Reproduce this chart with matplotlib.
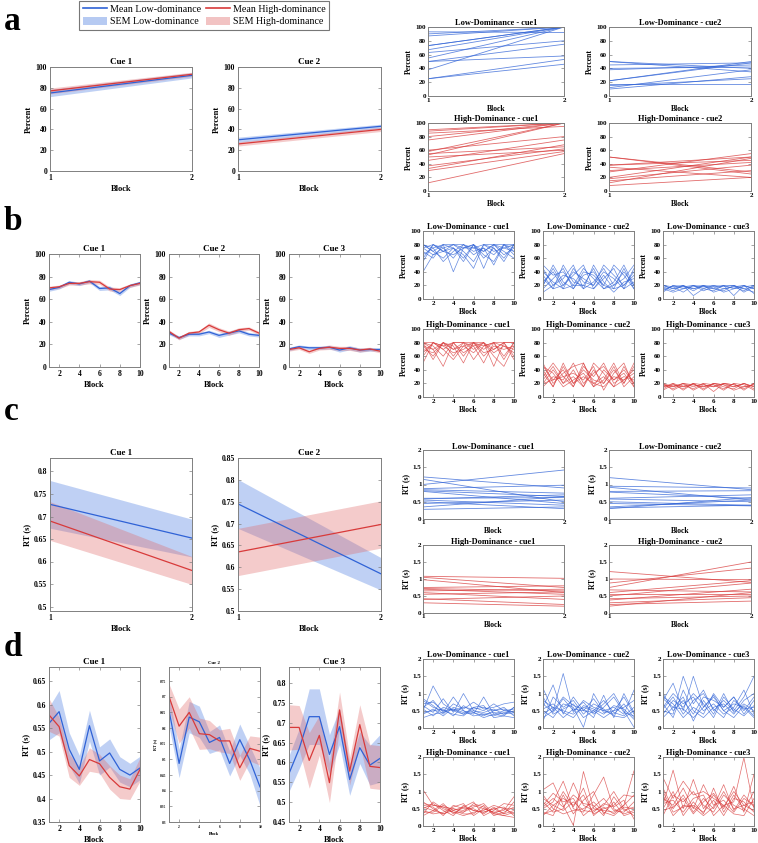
import matplotlib
matplotlib.use('Agg')
import matplotlib.pyplot as plt
from matplotlib.lines import Line2D
from matplotlib.patches import Patch
import numpy as np

plt.rcParams['font.family'] = ['Liberation Serif', 'DejaVu Serif']

BLUE = '#2f62d6'
RED = '#d83a3a'
BLUE_FILL = '#4a7be0'
RED_FILL = '#e06a6a'
SPINE = '#808080'

# ---------------- data ----------------
blocks2 = [1, 2]
blocks10 = [1, 2, 3, 4, 5, 6, 7, 8, 9, 10]

# a: percent, 2 blocks (mean, sem)
a_cue1_low = [75, 92]
a_cue1_low_sem = [3.5, 2.5]
a_cue1_high = [77, 93]
a_cue1_high_sem = [2.8, 2.0]
a_cue2_low = [30, 43]
a_cue2_low_sem = [2.5, 2.0]
a_cue2_high = [26, 40]
a_cue2_high_sem = [2.0, 2.0]

a_low_cue1_start = [100, 90, 87, 93, 73, 73, 67, 63, 55, 50, 50, 38, 25, 25]
a_low_cue1_end = [100, 100, 100, 92, 100, 100, 100, 80, 100, 75, 58, 100, 53, 46]
a_low_cue2_start = [50, 50, 45, 40, 38, 22, 22, 18, 15, 12, 10]
a_low_cue2_end = [40, 35, 48, 42, 45, 50, 48, 18, 25, 38, 28]
a_high_cue1_start = [100, 90, 88, 85, 80, 75, 60, 58, 55, 53, 50, 45, 37, 33, 30, 12]
a_high_cue1_end = [100, 100, 100, 95, 100, 100, 80, 100, 65, 100, 60, 75, 62, 68, 58, 55]
a_high_cue2_start = [50, 50, 38, 38, 35, 30, 28, 20, 18, 15, 12, 8]
a_high_cue2_end = [25, 28, 50, 45, 20, 42, 55, 50, 38, 30, 48, 20]

# b: percent, 10 blocks
b_cue1_low = [68.5, 70.5, 75, 73.5, 76, 69.5, 70, 65, 72, 74.5]
b_cue1_high = [70, 71, 74, 74, 75.5, 75, 69, 68.5, 72, 74]
b_cue2_low = [30, 26, 29, 29, 31, 28, 30, 32, 29, 28]
b_cue2_high = [31.5, 25.5, 30, 31, 37, 33, 30, 33, 34, 30]
b_cue3_low = [16, 18, 17, 17, 17.5, 15, 17, 15, 15.5, 15.5]
b_cue3_high = [15.5, 17, 13.5, 16.5, 17.5, 16.5, 16.5, 15, 16, 14]
b_sem_low = [1.5, 1.5, 1.5, 1.5, 1.5, 1.8, 1.8, 1.8, 1.5, 1.5]
b_sem_high = [1.5, 1.5, 1.5, 1.5, 2.0, 1.8, 1.8, 1.8, 1.5, 1.5]

b_low_cue1 = [
    [80, 75, 80, 80, 80, 75, 80, 80, 75, 80],
    [75, 80, 70, 80, 75, 80, 70, 80, 80, 75],
    [60, 80, 75, 60, 80, 70, 75, 65, 80, 80],
    [40, 65, 70, 75, 65, 45, 80, 70, 75, 70],
    [70, 60, 80, 40, 75, 80, 60, 75, 55, 80],
    [80, 70, 60, 75, 55, 80, 45, 80, 70, 60],
    [65, 75, 55, 70, 80, 65, 75, 50, 80, 65],
    [75, 65, 75, 80, 70, 55, 80, 75, 60, 80],
    [55, 80, 70, 65, 75, 75, 70, 80, 65, 75],
    [80, 70, 80, 75, 60, 80, 65, 55, 80, 70],
]
b_low_cue2 = [
    [30, 15, 50, 25, 20, 45, 15, 20, 40, 20],
    [20, 45, 20, 35, 50, 15, 30, 45, 15, 25],
    [45, 20, 30, 50, 15, 25, 45, 20, 30, 50],
    [15, 30, 45, 15, 35, 40, 20, 15, 45, 15],
    [35, 15, 20, 40, 30, 20, 50, 35, 20, 40],
    [25, 40, 15, 20, 45, 30, 15, 25, 50, 20],
    [10, 20, 35, 30, 15, 50, 25, 10, 25, 30],
    [40, 25, 15, 45, 25, 20, 40, 30, 15, 45],
    [20, 50, 25, 15, 40, 35, 20, 50, 35, 15],
    [50, 35, 40, 20, 20, 15, 35, 15, 20, 35],
]
b_low_cue3 = [
    [15, 18, 20, 15, 18, 20, 15, 18, 20, 15],
    [20, 15, 18, 20, 15, 12, 20, 20, 10, 18],
    [10, 20, 15, 18, 20, 18, 10, 15, 18, 20],
    [18, 12, 20, 5, 15, 20, 18, 20, 15, 10],
    [20, 18, 10, 20, 18, 15, 20, 5, 20, 15],
    [12, 20, 18, 15, 20, 10, 15, 18, 12, 20],
    [15, 10, 15, 20, 12, 18, 20, 15, 20, 8],
    [20, 15, 20, 12, 20, 15, 12, 20, 15, 18],
]
b_high_cue1 = [
    [80, 80, 75, 80, 80, 80, 75, 80, 80, 80],
    [75, 60, 80, 70, 80, 75, 80, 65, 75, 70],
    [80, 70, 45, 80, 60, 80, 70, 80, 55, 80],
    [60, 80, 70, 55, 75, 65, 80, 45, 80, 60],
    [70, 65, 80, 75, 50, 80, 60, 75, 70, 75],
    [80, 75, 60, 80, 80, 55, 75, 80, 60, 80],
    [50, 80, 75, 65, 70, 80, 65, 70, 80, 55],
    [75, 70, 80, 60, 80, 70, 80, 60, 45, 75],
    [65, 80, 70, 80, 65, 75, 50, 80, 75, 65],
    [80, 55, 80, 70, 75, 80, 80, 70, 80, 80],
]
b_high_cue2 = [
    [50, 20, 35, 45, 50, 20, 15, 30, 25, 40],
    [25, 45, 20, 30, 15, 50, 35, 15, 45, 20],
    [35, 15, 50, 20, 40, 25, 20, 45, 15, 30],
    [15, 30, 25, 50, 20, 35, 45, 25, 35, 15],
    [45, 35, 15, 25, 35, 15, 25, 50, 20, 45],
    [20, 25, 40, 15, 45, 30, 50, 20, 30, 25],
    [30, 50, 30, 35, 25, 45, 10, 35, 50, 15],
    [40, 15, 45, 20, 30, 20, 30, 15, 25, 35],
    [20, 40, 20, 40, 15, 40, 20, 40, 20, 50],
    [45, 25, 30, 15, 50, 15, 40, 25, 40, 20],
]
b_high_cue3 = [
    [18, 15, 20, 18, 15, 20, 18, 15, 20, 15],
    [15, 20, 10, 20, 18, 15, 20, 18, 12, 20],
    [20, 10, 18, 12, 20, 18, 10, 20, 18, 10],
    [10, 18, 15, 20, 10, 20, 15, 12, 20, 15],
    [20, 15, 20, 15, 20, 8, 20, 18, 15, 18],
    [12, 20, 15, 18, 15, 18, 12, 20, 10, 20],
    [18, 12, 20, 10, 18, 15, 20, 15, 20, 12],
    [15, 18, 12, 20, 12, 20, 18, 10, 15, 18],
]

# c: RT, 2 blocks
c_cue1_low = [0.727, 0.652]
c_cue1_low_sem = [0.053, 0.042]
c_cue1_high = [0.690, 0.580]
c_cue1_high_sem = [0.043, 0.031]
c_cue2_low = [0.745, 0.585]
c_cue2_low_sem = [0.056, 0.037]
c_cue2_high = [0.635, 0.698]
c_cue2_high_sem = [0.054, 0.054]

c_low_cue1_start = [1.22, 1.15, 1.0, 0.88, 0.85, 0.82, 0.8, 0.6, 0.58, 0.55, 0.5, 0.45, 0.35, 0.28]
c_low_cue1_end = [0.9, 0.5, 1.42, 0.98, 0.75, 0.65, 0.45, 0.62, 0.7, 0.4, 0.3, 0.55, 0.65, 0.35]
c_low_cue2_start = [1.2, 0.95, 0.92, 0.8, 0.78, 0.6, 0.58, 0.5, 0.45, 0.35, 0.32, 0.3]
c_low_cue2_end = [0.85, 0.9, 0.55, 0.82, 0.6, 0.7, 0.5, 0.4, 0.38, 0.55, 0.4, 0.62]
c_high_cue1_start = [1.08, 1.05, 0.98, 0.75, 0.72, 0.7, 0.65, 0.6, 0.55, 0.42, 0.4, 0.3]
c_high_cue1_end = [1.02, 0.75, 0.6, 0.8, 0.65, 0.55, 0.7, 0.4, 0.62, 0.25, 0.5, 0.2]
c_high_cue2_start = [1.22, 1.0, 0.88, 0.75, 0.68, 0.6, 0.55, 0.5, 0.42, 0.38, 0.3, 0.25, 0.2]
c_high_cue2_end = [0.9, 0.98, 1.32, 1.5, 0.62, 0.95, 0.55, 0.88, 0.5, 0.7, 0.45, 0.35, 0.6]

# d: RT, 10 blocks
d_cue1_low = [0.56, 0.585, 0.505, 0.462, 0.555, 0.48, 0.497, 0.462, 0.45, 0.465]
d_cue1_low_sem = [0.035, 0.045, 0.035, 0.03, 0.033, 0.03, 0.03, 0.027, 0.025, 0.025]
d_cue1_high = [0.578, 0.553, 0.47, 0.448, 0.483, 0.474, 0.445, 0.425, 0.42, 0.462]
d_cue1_high_sem = [0.035, 0.02, 0.025, 0.02, 0.025, 0.02, 0.025, 0.025, 0.022, 0.025]
d_cue2_low = [0.657, 0.487, 0.635, 0.62, 0.554, 0.57, 0.487, 0.563, 0.497, 0.412]
d_cue2_low_sem = [0.05, 0.045, 0.05, 0.05, 0.035, 0.04, 0.04, 0.05, 0.045, 0.06]
d_cue2_high = [0.701, 0.606, 0.65, 0.582, 0.579, 0.559, 0.559, 0.473, 0.535, 0.526]
d_cue2_high_sem = [0.04, 0.055, 0.05, 0.05, 0.045, 0.035, 0.04, 0.04, 0.04, 0.045]
d_cue3_low = [0.572, 0.634, 0.715, 0.715, 0.62, 0.69, 0.557, 0.637, 0.593, 0.61]
d_cue3_low_sem = [0.045, 0.05, 0.07, 0.07, 0.05, 0.045, 0.04, 0.04, 0.05, 0.06]
d_cue3_high = [0.688, 0.688, 0.605, 0.668, 0.549, 0.732, 0.578, 0.695, 0.59, 0.587]
d_cue3_high_sem = [0.057, 0.055, 0.07, 0.05, 0.05, 0.045, 0.035, 0.05, 0.055, 0.055]

d_low_cue1 = [
    [0.8, 0.6, 0.5, 0.55, 0.45, 0.5, 0.4, 0.45, 0.4, 0.5],
    [0.5, 1.22, 0.7, 0.5, 0.6, 0.55, 0.6, 0.5, 0.55, 0.45],
    [0.65, 0.45, 0.85, 0.45, 1.0, 0.5, 0.45, 0.55, 0.4, 0.6],
    [0.4, 0.55, 0.35, 0.6, 0.5, 0.4, 0.9, 0.4, 0.35, 0.3],
    [0.7, 0.75, 0.5, 0.4, 0.35, 0.6, 0.5, 0.7, 0.5, 0.55],
    [0.3, 0.4, 0.45, 0.9, 0.5, 0.35, 0.4, 0.35, 0.45, 0.4],
    [0.55, 0.35, 0.6, 0.5, 0.4, 0.45, 0.35, 0.5, 0.6, 0.35],
    [0.85, 0.65, 0.4, 0.7, 0.55, 0.75, 0.55, 0.6, 0.7, 0.75],
    [0.45, 0.5, 0.55, 0.35, 0.65, 0.45, 0.3, 0.4, 0.5, 0.45],
    [0.6, 0.8, 0.45, 0.55, 0.4, 0.6, 0.65, 0.3, 0.35, 0.6],
]
d_low_cue2 = [
    [1.15, 0.5, 1.58, 0.45, 0.8, 0.6, 0.5, 0.4, 0.7, 0.3],
    [0.6, 1.25, 0.4, 0.9, 0.5, 0.45, 0.7, 1.0, 0.5, 0.02],
    [0.5, 0.3, 0.7, 0.6, 0.02, 1.0, 0.5, 0.6, 0.4, 1.1],
    [0.8, 0.6, 0.5, 0.4, 0.6, 0.5, 0.3, 0.5, 0.9, 0.4],
    [0.2, 0.9, 0.6, 0.8, 0.4, 0.7, 0.55, 0.35, 0.3, 0.5],
    [0.7, 0.45, 0.85, 0.5, 0.75, 0.4, 0.6, 0.9, 0.45, 0.35],
    [0.4, 0.6, 0.3, 0.55, 0.5, 0.85, 0.45, 0.5, 0.6, 0.8],
    [0.9, 0.4, 0.55, 0.7, 0.3, 0.5, 0.8, 0.45, 0.35, 0.6],
    [0.55, 0.7, 0.45, 0.3, 0.65, 0.55, 0.4, 0.65, 0.55, 0.25],
    [0.3, 0.5, 0.9, 0.65, 0.55, 0.3, 0.95, 0.3, 1.0, 0.45],
]
d_low_cue3 = [
    [0.8, 1.3, 0.5, 1.5, 0.6, 0.9, 0.5, 0.7, 0.6, 0.3],
    [0.5, 0.4, 1.5, 0.7, 1.1, 0.5, 0.8, 0.5, 0.9, 1.5],
    [0.9, 0.7, 0.3, 0.6, 0.4, 1.0, 0.6, 0.9, 0.4, 0.8],
    [0.3, 0.6, 0.9, 0.2, 0.8, 0.4, 1.0, 0.45, 0.7, 0.5],
    [0.6, 1.0, 0.7, 0.9, 0.5, 0.7, 0.4, 0.6, 1.1, 0.4],
    [1.0, 0.5, 0.8, 0.4, 0.9, 0.8, 0.6, 0.9, 0.5, 0.9],
    [0.4, 0.8, 0.6, 1.0, 0.7, 0.3, 0.9, 0.55, 0.35, 0.65],
    [0.7, 0.3, 1.1, 0.5, 0.3, 0.6, 0.7, 0.4, 0.8, 1.0],
    [0.55, 0.9, 0.4, 0.8, 1.0, 0.55, 0.3, 0.8, 0.55, 0.6],
    [0.85, 0.6, 0.55, 0.3, 0.6, 0.95, 0.5, 0.3, 0.65, 0.35],
]
d_high_cue1 = [
    [1.05, 0.6, 0.55, 0.5, 0.45, 0.6, 0.5, 0.4, 0.45, 0.85],
    [0.7, 0.5, 0.35, 0.5, 0.4, 0.65, 0.55, 0.35, 0.3, 0.4],
    [0.5, 0.65, 0.45, 0.3, 0.6, 0.45, 0.4, 0.5, 0.55, 0.3],
    [0.4, 0.4, 0.6, 0.45, 0.35, 0.35, 0.6, 0.3, 0.4, 0.55],
    [0.6, 0.55, 0.3, 0.6, 0.5, 0.5, 0.35, 0.55, 0.35, 0.45],
    [0.35, 0.7, 0.5, 0.4, 0.3, 0.4, 0.45, 0.6, 0.5, 0.35],
    [0.55, 0.45, 0.65, 0.35, 0.55, 0.7, 0.3, 0.45, 0.65, 0.6],
    [0.45, 0.35, 0.4, 0.55, 0.65, 0.3, 0.5, 0.4, 0.3, 0.25],
    [0.65, 0.6, 0.55, 0.4, 0.4, 0.55, 0.65, 0.35, 0.5, 0.5],
    [0.3, 0.45, 0.35, 0.45, 0.55, 0.45, 0.4, 0.5, 0.35, 0.7],
]
d_high_cue2 = [
    [1.05, 1.25, 0.6, 0.02, 1.58, 0.5, 0.45, 0.4, 0.6, 1.6],
    [0.5, 0.7, 1.3, 0.5, 0.4, 0.9, 1.42, 0.5, 0.35, 0.45],
    [0.7, 0.4, 0.5, 1.25, 0.6, 0.45, 0.6, 1.0, 0.5, 0.3],
    [0.3, 0.6, 0.8, 0.6, 0.9, 0.35, 0.5, 0.6, 0.9, 0.85],
    [0.9, 0.5, 0.35, 0.45, 0.5, 0.7, 0.4, 0.3, 0.55, 0.5],
    [0.6, 0.95, 0.7, 0.8, 0.3, 0.55, 0.8, 0.45, 0.4, 0.7],
    [0.4, 0.3, 0.9, 0.35, 0.75, 1.0, 0.35, 0.7, 0.3, 0.4],
    [0.8, 0.6, 0.45, 0.7, 0.45, 0.4, 0.65, 0.55, 0.75, 0.2],
    [0.55, 0.8, 0.55, 0.9, 0.65, 0.6, 0.3, 0.85, 0.45, 0.55],
    [0.35, 0.45, 1.0, 0.55, 1.1, 0.3, 0.55, 0.35, 0.6, 0.9],
]
d_high_cue3 = [
    [1.4, 0.8, 1.3, 0.9, 1.0, 0.8, 0.6, 0.7, 1.98, 0.5],
    [0.6, 1.62, 0.5, 1.35, 0.5, 0.9, 0.5, 1.15, 0.4, 1.5],
    [1.1, 0.5, 0.9, 0.4, 0.8, 0.5, 1.0, 0.5, 0.6, 0.7],
    [0.5, 1.0, 0.3, 0.7, 0.35, 1.1, 0.4, 0.9, 0.5, 0.3],
    [0.8, 0.6, 1.1, 0.5, 1.2, 0.6, 0.75, 0.4, 0.8, 0.6],
    [0.3, 0.9, 0.7, 1.0, 0.6, 0.4, 0.9, 0.6, 0.45, 1.0],
    [1.0, 0.4, 0.55, 0.6, 0.4, 0.75, 0.3, 0.8, 0.7, 0.4],
    [0.65, 0.75, 0.4, 0.8, 0.9, 0.3, 0.6, 0.35, 0.3, 0.8],
    [0.45, 0.55, 0.8, 0.35, 0.7, 0.95, 0.55, 1.0, 0.6, 0.45],
    [0.9, 0.3, 0.6, 0.55, 0.3, 0.55, 1.2, 0.45, 0.9, 0.55],
]

# ---------------- helpers ----------------
W, H = 758, 843
fig = plt.figure(figsize=(W / 100, H / 100), dpi=100)
fig.patch.set_facecolor('white')


def add_ax(l, t, r, b):
    return fig.add_axes([l / W, 1 - b / H, (r - l) / W, (b - t) / H])


def style(ax, title, ylabel, xlim, xticks, ylim, yticks, fs=5.5, tfs=6.5, xlabel='Block',
          pad=2, tpad=2):
    ax.set_xlim(xlim)
    ax.set_ylim(ylim)
    ax.set_xticks(xticks)
    ax.set_yticks(yticks)
    ax.set_xticklabels([f'{v:g}' for v in xticks], fontweight='bold')
    ax.set_yticklabels([f'{v:g}' for v in yticks], fontweight='bold')
    ax.tick_params(direction='in', length=2, width=0.5, top=True, right=True,
                   labelsize=fs, pad=pad, color=SPINE)
    for s in ax.spines.values():
        s.set_color(SPINE)
        s.set_linewidth(0.7)
    ax.set_title(title, fontsize=tfs, fontweight='bold', pad=tpad)
    ax.set_ylabel(ylabel, fontsize=fs + 0.5, fontweight='bold', labelpad=2)
    if xlabel:
        ax.set_xlabel(xlabel, fontsize=fs + 0.5, fontweight='bold', labelpad=pad)


def mean_plot(ax, x, low, low_sem, high, high_sem, lw=0.9):
    for m, s, c, fc in [(low, low_sem, BLUE, BLUE_FILL), (high, high_sem, RED, RED_FILL)]:
        m = np.array(m)
        s = np.array(s)
        ax.fill_between(x, m - s, m + s, color=fc, alpha=0.35, linewidth=0)
        ax.plot(x, m, color=c, linewidth=lw)


def pair_plot(ax, start, end, color):
    for a, b in zip(start, end):
        ax.plot(blocks2, [a, b], color=color, linewidth=0.6, alpha=0.75)


def subj_plot(ax, rows, color):
    for r in rows:
        ax.plot(blocks10, r, color=color, linewidth=0.5, alpha=0.75)


pct_ticks = [0, 20, 40, 60, 80, 100]
rt_ticks = [0, 0.5, 1, 1.5, 2]

# ---------------- panel letters & legend ----------------
for letter, y in [('a', 22), ('b', 222), ('c', 412), ('d', 648)]:
    fig.text(4 / W, 1 - y / H, letter, fontsize=24, fontweight='bold', va='center', ha='left')

handles = [Line2D([], [], color=BLUE, lw=1.2),
           Patch(facecolor=BLUE_FILL, alpha=0.4, edgecolor='none'),
           Line2D([], [], color=RED, lw=1.2),
           Patch(facecolor=RED_FILL, alpha=0.4, edgecolor='none')]
labels = ['Mean Low-dominance', 'SEM Low-dominance', 'Mean High-dominance', 'SEM High-dominance']
leg = fig.legend(handles, labels, ncol=2, loc='upper left', bbox_to_anchor=(79 / W, 1 - 1 / H),
                 borderaxespad=0, fontsize=7.2, frameon=True, fancybox=False, borderpad=0.35,
                 handlelength=2.4, handleheight=0.9, columnspacing=0.5, handletextpad=0.3,
                 labelspacing=0.25)
leg.get_frame().set_edgecolor('#555555')
leg.get_frame().set_linewidth(0.8)

# ---------------- panel a ----------------
ax = add_ax(50, 67, 192, 171)
mean_plot(ax, blocks2, a_cue1_low, a_cue1_low_sem, a_cue1_high, a_cue1_high_sem)
style(ax, 'Cue 1', 'Percent', (1, 2), [1, 2], (0, 100), pct_ticks)
ax = add_ax(238, 67, 381, 171)
mean_plot(ax, blocks2, a_cue2_low, a_cue2_low_sem, a_cue2_high, a_cue2_high_sem)
style(ax, 'Cue 2', 'Percent', (1, 2), [1, 2], (0, 100), pct_ticks)

for (l, r), (t, b), data, col, title in [
        ((428, 564), (27, 96), (a_low_cue1_start, a_low_cue1_end), BLUE, 'Low-Dominance - cue1'),
        ((609, 751), (27, 96), (a_low_cue2_start, a_low_cue2_end), BLUE, 'Low-Dominance - cue2'),
        ((428, 564), (123, 191), (a_high_cue1_start, a_high_cue1_end), RED, 'High-Dominance - cue1'),
        ((609, 751), (123, 191), (a_high_cue2_start, a_high_cue2_end), RED, 'High-Dominance - cue2')]:
    ax = add_ax(l, t, r, b)
    pair_plot(ax, data[0], data[1], col)
    style(ax, title, 'Percent', (1, 2), [1, 2], (0, 100), pct_ticks, fs=5, tfs=6, pad=1.5, tpad=1.5)

# ---------------- panel b ----------------
for (l, r), low, high, title in [((49, 140), b_cue1_low, b_cue1_high, 'Cue 1'),
                                 ((169, 259), b_cue2_low, b_cue2_high, 'Cue 2'),
                                 ((289, 380), b_cue3_low, b_cue3_high, 'Cue 3')]:
    ax = add_ax(l, 254, r, 367)
    mean_plot(ax, blocks10, low, b_sem_low, high, b_sem_high)
    style(ax, title, 'Percent', (1, 10), [2, 4, 6, 8, 10], (0, 100), pct_ticks)

for (l, r), (t, b), rows, col, title in [
        ((423, 514), (231, 299), b_low_cue1, BLUE, 'Low-Dominance - cue1'),
        ((543, 634), (231, 299), b_low_cue2, BLUE, 'Low-Dominance - cue2'),
        ((663, 754), (231, 299), b_low_cue3, BLUE, 'Low-Dominance - cue3'),
        ((423, 514), (329, 397), b_high_cue1, RED, 'High-Dominance - cue1'),
        ((543, 634), (329, 397), b_high_cue2, RED, 'High-Dominance - cue2'),
        ((663, 754), (329, 397), b_high_cue3, RED, 'High-Dominance - cue3')]:
    ax = add_ax(l, t, r, b)
    subj_plot(ax, rows, col)
    style(ax, title, 'Percent', (1, 10), [2, 4, 6, 8, 10], (0, 100), pct_ticks, fs=5, tfs=6,
          pad=1.5, tpad=1.5)

# ---------------- panel c ----------------
ax = add_ax(50, 458, 192, 611)
mean_plot(ax, blocks2, c_cue1_low, c_cue1_low_sem, c_cue1_high, c_cue1_high_sem)
style(ax, 'Cue 1', 'RT (s)', (1, 2), [1, 2], (0.49, 0.83),
      [0.5, 0.55, 0.6, 0.65, 0.7, 0.75, 0.8])
ax = add_ax(238, 458, 381, 611)
mean_plot(ax, blocks2, c_cue2_low, c_cue2_low_sem, c_cue2_high, c_cue2_high_sem)
style(ax, 'Cue 2', 'RT (s)', (1, 2), [1, 2], (0.5, 0.85),
      [0.5, 0.55, 0.6, 0.65, 0.7, 0.75, 0.8, 0.85])

for (l, r), (t, b), data, col, title in [
        ((423, 564), (450, 519), (c_low_cue1_start, c_low_cue1_end), BLUE, 'Low-Dominance - cue1'),
        ((609, 751), (450, 519), (c_low_cue2_start, c_low_cue2_end), BLUE, 'Low-Dominance - cue2'),
        ((423, 564), (545, 613), (c_high_cue1_start, c_high_cue1_end), RED, 'High-Dominance - cue1'),
        ((609, 751), (545, 613), (c_high_cue2_start, c_high_cue2_end), RED, 'High-Dominance - cue2')]:
    ax = add_ax(l, t, r, b)
    pair_plot(ax, data[0], data[1], col)
    style(ax, title, 'RT (s)', (1, 2), [1, 2], (0, 2), rt_ticks, fs=5, tfs=6, pad=1, tpad=1)

# ---------------- panel d ----------------
ax = add_ax(49, 667, 140, 822)
mean_plot(ax, blocks10, d_cue1_low, d_cue1_low_sem, d_cue1_high, d_cue1_high_sem)
style(ax, 'Cue 1', 'RT (s)', (1, 10), [2, 4, 6, 8, 10], (0.35, 0.68),
      [0.35, 0.4, 0.45, 0.5, 0.55, 0.6, 0.65])
ax = add_ax(169, 667, 260, 822)
mean_plot(ax, blocks10, d_cue2_low, d_cue2_low_sem, d_cue2_high, d_cue2_high_sem)
style(ax, 'Cue 2', 'RT (s)', (1, 10), [2, 4, 6, 8, 10], (0.3, 0.795),
      [0.3, 0.35, 0.4, 0.45, 0.5, 0.55, 0.6, 0.65, 0.7, 0.75], fs=2.6, tfs=3.5)
ax = add_ax(289, 667, 380, 822)
mean_plot(ax, blocks10, d_cue3_low, d_cue3_low_sem, d_cue3_high, d_cue3_high_sem)
style(ax, 'Cue 3', 'RT (s)', (1, 10), [2, 4, 6, 8, 10], (0.45, 0.84),
      [0.45, 0.5, 0.55, 0.6, 0.65, 0.7, 0.75, 0.8])

for (l, r), (t, b), rows, col, title in [
        ((423, 514), (659, 728), d_low_cue1, BLUE, 'Low-Dominance - cue1'),
        ((543, 634), (659, 728), d_low_cue2, BLUE, 'Low-Dominance - cue2'),
        ((663, 754), (659, 728), d_low_cue3, BLUE, 'Low-Dominance - cue3'),
        ((423, 514), (757, 826), d_high_cue1, RED, 'High-Dominance - cue1'),
        ((543, 634), (757, 826), d_high_cue2, RED, 'High-Dominance - cue2'),
        ((663, 754), (757, 826), d_high_cue3, RED, 'High-Dominance - cue3')]:
    ax = add_ax(l, t, r, b)
    subj_plot(ax, rows, col)
    style(ax, title, 'RT (s)', (1, 10), [2, 4, 6, 8, 10], (0, 2), rt_ticks, fs=5, tfs=6,
          pad=1.5, tpad=1.5)

fig.savefig('out.png', dpi=100, facecolor='white')
plt.close()
